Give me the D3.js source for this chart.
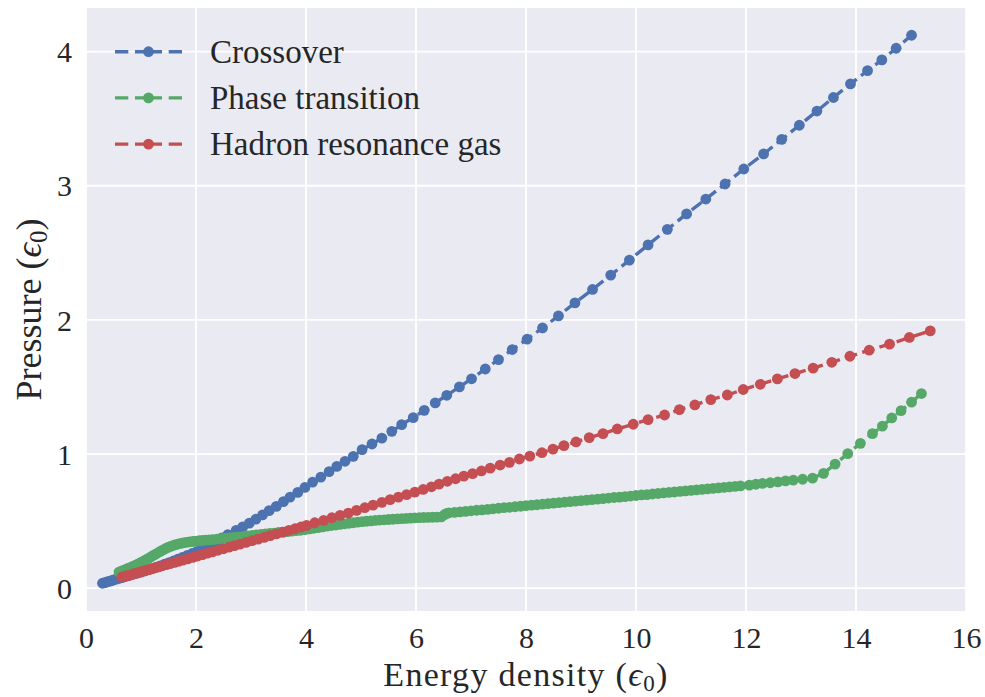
<!DOCTYPE html>
<html>
<head>
<meta charset="utf-8">
<script src="https://cdn.jsdelivr.net/npm/d3@7/dist/d3.min.js"></script>
<style>
  html, body { margin: 0; padding: 0; background: #ffffff; }
  svg { display: block; }
  text { font-family: "Liberation Serif", "DejaVu Serif", serif; fill: #262626; }
</style>
</head>
<body>
<svg id="chart" width="985" height="697"></svg>
<script>
// ---------------- DATA ----------------
const seriesNames = ["Crossover", "Phase transition", "Hadron resonance gas"];
const seriesColors = ["#4C72B0", "#55A868", "#C44E52"];
const xTicks = [0, 2, 4, 6, 8, 10, 12, 14, 16];
const yTicks = [0, 1, 2, 3, 4];

// [energy density, pressure]
const crossover = [
  [0.30,0.037],[0.34,0.041],[0.38,0.046],[0.42,0.051],[0.46,0.056],[0.50,0.061],
  [0.55,0.067],[0.60,0.073],[0.65,0.079],[0.70,0.085],[0.76,0.092],[0.82,0.099],
  [0.88,0.106],[0.94,0.113],[1.00,0.120],[1.07,0.129],[1.14,0.138],[1.21,0.147],
  [1.28,0.157],[1.35,0.167],[1.43,0.179],[1.51,0.191],[1.59,0.203],[1.67,0.216],
  [1.75,0.229],[1.84,0.244],[1.93,0.259],[2.02,0.275],[2.11,0.292],[2.20,0.310],
  [2.29,0.330],[2.38,0.352],[2.47,0.375],[2.58,0.400],[2.73,0.431],[2.85,0.457],
  [2.97,0.485],[3.09,0.515],[3.21,0.546],[3.33,0.578],[3.46,0.610],[3.59,0.645],
  [3.71,0.679],[3.85,0.714],[3.98,0.751],[4.12,0.791],[4.27,0.828],[4.42,0.869],
  [4.56,0.908],[4.71,0.946],[4.86,0.983],[5.02,1.033],[5.20,1.075],[5.38,1.119],
  [5.56,1.169],[5.74,1.219],[5.95,1.272],[6.15,1.326],[6.35,1.381],[6.56,1.438],
  [6.79,1.501],[7.01,1.561],[7.26,1.634],[7.50,1.704],[7.75,1.779],[8.02,1.856],
  [8.30,1.940],[8.59,2.030],[8.89,2.127],[9.21,2.227],[9.54,2.334],[9.88,2.446],
  [10.22,2.559],[10.57,2.675],[10.92,2.790],[11.27,2.901],[11.62,3.013],[11.96,3.125],
  [12.32,3.237],[12.65,3.346],[12.97,3.451],[13.29,3.557],[13.59,3.658],[13.90,3.759],
  [14.21,3.858],[14.47,3.938],[14.73,4.025],[15.01,4.122]
];

const phaseTransition = [
  [0.60,0.120],[0.65,0.128],[0.70,0.136],[0.75,0.145],[0.80,0.154],[0.85,0.163],
  [0.90,0.172],[0.95,0.182],[1.00,0.192],[1.05,0.203],[1.10,0.214],[1.15,0.226],
  [1.20,0.238],[1.25,0.250],[1.30,0.262],[1.35,0.274],[1.40,0.286],[1.45,0.296],
  [1.50,0.306],[1.55,0.314],[1.60,0.321],[1.65,0.327],[1.70,0.332],[1.76,0.337],
  [1.82,0.341],[1.88,0.345],[1.94,0.348],[2.00,0.351],[2.06,0.354],[2.12,0.356],
  [2.18,0.358],[2.24,0.360],[2.30,0.362],[2.38,0.366],[2.46,0.369],[2.54,0.373],
  [2.62,0.376],[2.70,0.380],[2.78,0.383],[2.86,0.387],[2.94,0.390],[3.02,0.394],
  [3.10,0.397],[3.18,0.401],[3.26,0.404],[3.34,0.408],[3.42,0.411],[3.50,0.415],
  [3.58,0.418],[3.66,0.422],[3.74,0.425],[3.82,0.429],[3.90,0.432],[3.98,0.437],
  [4.06,0.442],[4.14,0.447],[4.22,0.452],[4.30,0.457],[4.38,0.462],[4.46,0.467],
  [4.54,0.471],[4.62,0.476],[4.70,0.480],[4.78,0.484],[4.86,0.488],[4.94,0.492],
  [5.02,0.496],[5.10,0.499],[5.18,0.502],[5.26,0.505],[5.34,0.508],[5.42,0.510],
  [5.50,0.512],[5.58,0.514],[5.66,0.516],[5.74,0.518],[5.82,0.520],[5.90,0.522],
  [5.98,0.524],[6.06,0.526],[6.14,0.527],[6.22,0.528],[6.30,0.529],[6.38,0.530],
  [6.46,0.531],[6.52,0.548],[6.56,0.558],[6.60,0.562],[6.70,0.565],[6.80,0.569],
  [6.90,0.573],[7.00,0.577],[7.10,0.581],[7.20,0.584],[7.30,0.588],[7.40,0.592],
  [7.50,0.596],[7.60,0.600],[7.70,0.603],[7.80,0.607],[7.90,0.611],[8.00,0.615],
  [8.10,0.619],[8.20,0.622],[8.30,0.626],[8.40,0.630],[8.50,0.634],[8.60,0.638],
  [8.70,0.641],[8.80,0.645],[8.90,0.649],[9.00,0.653],[9.10,0.657],[9.20,0.660],
  [9.30,0.664],[9.40,0.668],[9.50,0.672],[9.60,0.676],[9.70,0.679],[9.80,0.683],
  [9.90,0.687],[10.00,0.691],[10.10,0.695],[10.20,0.698],[10.30,0.702],[10.40,0.706],
  [10.50,0.710],[10.60,0.714],[10.70,0.717],[10.80,0.721],[10.90,0.725],[11.00,0.729],
  [11.10,0.733],[11.20,0.736],[11.30,0.740],[11.40,0.744],[11.50,0.748],[11.60,0.752],
  [11.70,0.755],[11.80,0.759],[11.90,0.763],[12.06,0.768],[12.18,0.775],[12.30,0.781],
  [12.44,0.786],[12.58,0.793],[12.72,0.800],[12.86,0.806],[13.03,0.812],[13.21,0.820],
  [13.41,0.856],[13.62,0.925],[13.85,1.003],[14.08,1.080],[14.30,1.152],[14.48,1.208],
  [14.65,1.269],[14.82,1.324],[15.01,1.387],[15.19,1.451]
];

const hadronGas = [
  [0.65,0.082],[0.69,0.087],[0.73,0.091],[0.77,0.096],[0.81,0.100],[0.86,0.106],
  [0.91,0.112],[0.96,0.118],[1.01,0.123],[1.07,0.130],[1.13,0.137],[1.19,0.144],
  [1.25,0.151],[1.32,0.159],[1.39,0.167],[1.46,0.175],[1.53,0.183],[1.61,0.192],
  [1.69,0.201],[1.77,0.210],[1.85,0.219],[1.94,0.230],[2.03,0.240],[2.12,0.250],
  [2.21,0.261],[2.30,0.271],[2.40,0.283],[2.50,0.294],[2.60,0.306],[2.70,0.317],
  [2.80,0.329],[2.91,0.341],[3.02,0.354],[3.13,0.366],[3.24,0.379],[3.35,0.392],
  [3.46,0.405],[3.58,0.418],[3.69,0.431],[3.80,0.443],[3.91,0.456],[4.01,0.468],
  [4.16,0.488],[4.32,0.505],[4.47,0.525],[4.62,0.543],[4.77,0.560],[4.92,0.580],
  [5.07,0.600],[5.22,0.619],[5.38,0.640],[5.53,0.660],[5.68,0.679],[5.83,0.697],
  [5.98,0.716],[6.13,0.736],[6.28,0.756],[6.42,0.776],[6.57,0.797],[6.72,0.816],
  [6.87,0.835],[7.03,0.854],[7.19,0.874],[7.35,0.895],[7.53,0.918],[7.70,0.938],
  [7.88,0.963],[8.07,0.985],[8.29,1.010],[8.49,1.037],[8.69,1.063],[8.91,1.090],
  [9.15,1.122],[9.40,1.152],[9.66,1.187],[9.95,1.222],[10.22,1.257],[10.52,1.291],
  [10.79,1.331],[11.07,1.366],[11.36,1.406],[11.66,1.440],[11.95,1.481],[12.26,1.520],
  [12.57,1.560],[12.89,1.600],[13.22,1.640],[13.56,1.684],[13.89,1.729],[14.24,1.774],
  [14.61,1.819],[14.97,1.869],[15.35,1.918]
];

const xLabel = "Energy density";
const yLabel = "Pressure";

// ---------------- LAYOUT ----------------
const plot = { left: 86, right: 966, top: 8, bottom: 611 };
const svg = d3.select("#chart");
const serif = "'Liberation Serif', 'DejaVu Serif', serif";

const x = d3.scaleLinear().domain([0, 16]).range([plot.left, plot.right]);
const y = d3.scaleLinear().domain([-0.17, 4.325]).range([plot.bottom, plot.top]);

svg.append("rect").attr("x", 0).attr("y", 0).attr("width", 985).attr("height", 697).attr("fill", "#ffffff");
svg.append("rect")
  .attr("x", plot.left).attr("y", plot.top)
  .attr("width", plot.right - plot.left).attr("height", plot.bottom - plot.top)
  .attr("fill", "#EAEAF2");

// grid
const grid = svg.append("g");
grid.selectAll("line.vx").data(xTicks).enter().append("line")
  .attr("x1", d => x(d)).attr("x2", d => x(d))
  .attr("y1", plot.top).attr("y2", plot.bottom)
  .attr("stroke", "#ffffff").attr("stroke-width", 1.8);
grid.selectAll("line.hy").data(yTicks).enter().append("line")
  .attr("y1", d => y(d)).attr("y2", d => y(d))
  .attr("x1", plot.left).attr("x2", plot.right)
  .attr("stroke", "#ffffff").attr("stroke-width", 1.8);

// axes (labels only)
const xAxis = svg.append("g").attr("transform", `translate(0,${plot.bottom})`)
  .call(d3.axisBottom(x).tickValues(xTicks).tickSize(0).tickFormat(d3.format("d")));
xAxis.attr("font-family", null).attr("font-size", null);
xAxis.select(".domain").remove();
xAxis.selectAll("text").attr("y", 37).attr("dy", null)
  .style("font-size", "30px").style("font-family", serif).attr("fill", "#262626");

const yAxis = svg.append("g").attr("transform", `translate(${plot.left},0)`)
  .call(d3.axisLeft(y).tickValues(yTicks).tickSize(0).tickFormat(d3.format("d")));
yAxis.attr("font-family", null).attr("font-size", null);
yAxis.select(".domain").remove();
yAxis.selectAll("text").attr("x", -14).attr("dy", "0.34em")
  .style("font-size", "30px").style("font-family", serif).attr("fill", "#262626");

// series
const allSeries = [crossover, phaseTransition, hadronGas];
const line = d3.line().x(d => x(d[0])).y(d => y(d[1]));
const markerR = 5.4;

allSeries.forEach((data, i) => {
  const g = svg.append("g");
  g.append("path").datum(data).attr("d", line)
    .attr("fill", "none").attr("stroke", seriesColors[i])
    .attr("stroke-width", 3.4).attr("stroke-dasharray", "12.6,5.4");
  g.selectAll("circle").data(data).enter().append("circle")
    .attr("cx", d => x(d[0])).attr("cy", d => y(d[1])).attr("r", markerR)
    .attr("fill", seriesColors[i]);
});

// legend
const legend = svg.append("g");
const legY = [51.7, 97.9, 144.1];
seriesNames.forEach((name, i) => {
  legend.append("line")
    .attr("x1", 115).attr("x2", 182).attr("y1", legY[i]).attr("y2", legY[i])
    .attr("stroke", seriesColors[i]).attr("stroke-width", 3.4)
    .attr("stroke-dasharray", "13.3,6.7,27,6.7,13.3");
  legend.append("circle").attr("cx", 148.5).attr("cy", legY[i]).attr("r", markerR)
    .attr("fill", seriesColors[i]);
  legend.append("text").attr("x", 210).attr("y", legY[i] + 11.2)
    .style("font-family", serif).style("font-size", "33px").text(name);
});

// axis labels
const xl = svg.append("text").attr("x", (plot.left + plot.right) / 2).attr("y", 686)
  .attr("text-anchor", "middle").style("font-family", serif).style("font-size", "34px")
  .style("letter-spacing", "1.3px");
xl.append("tspan").text(xLabel + " (");
xl.append("tspan").style("font-style", "italic").text("\u03F5");
xl.append("tspan").attr("dy", 5).style("font-size", "23px").text("0");
xl.append("tspan").attr("dy", -5).text(")");

const yl = svg.append("text")
  .attr("transform", `translate(41,${(plot.top + plot.bottom) / 2}) rotate(-90)`)
  .attr("text-anchor", "middle").style("font-family", serif).style("font-size", "36px");
yl.append("tspan").text(yLabel + " (");
yl.append("tspan").style("font-style", "italic").text("\u03F5");
yl.append("tspan").attr("dy", 6).style("font-size", "25px").text("0");
yl.append("tspan").attr("dy", -6).text(")");
</script>
</body>
</html>
